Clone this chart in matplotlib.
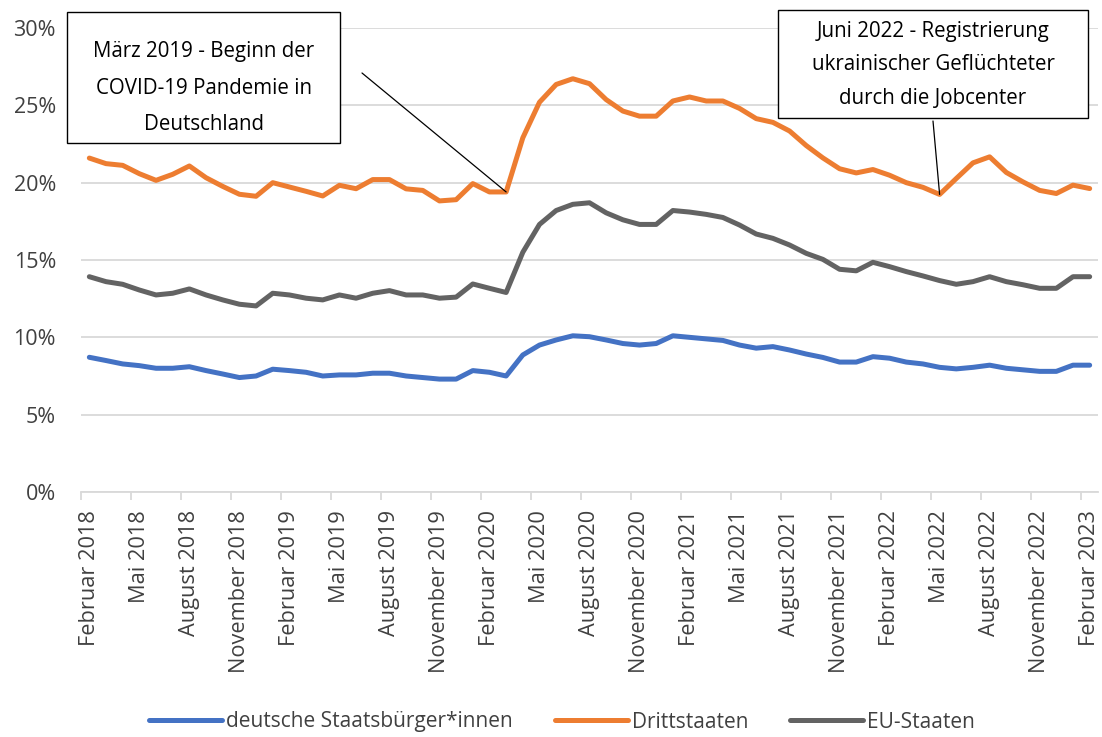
import numpy as np
import matplotlib
matplotlib.use('Agg')
import matplotlib.pyplot as plt
from matplotlib.patches import Rectangle

plt.rcParams['font.family'] = ['Open Sans', 'DejaVu Sans']

# Monatswerte Februar 2018 bis Februar 2023 (Anteil in %)
month_names = ['Januar', 'Februar', 'März', 'April', 'Mai', 'Juni', 'Juli',
               'August', 'September', 'Oktober', 'November', 'Dezember']
months = [f'{month_names[(1 + i) % 12]} {2018 + (1 + i) // 12}' for i in range(61)]

deutsche = [8.71, 8.5, 8.28, 8.17, 8.0, 8.0, 8.1, 7.85, 7.63, 7.4, 7.5, 7.94,
            7.85, 7.74, 7.5, 7.57, 7.57, 7.68, 7.68, 7.5, 7.4, 7.3, 7.3, 7.85,
            7.74, 7.5, 8.86, 9.5, 9.83, 10.1, 10.04, 9.83, 9.6, 9.5, 9.6, 10.1,
            10.0, 9.9, 9.8, 9.5, 9.3, 9.4, 9.18, 8.92, 8.7, 8.4, 8.4, 8.75,
            8.65, 8.4, 8.28, 8.06, 7.96, 8.06, 8.2, 8.0, 7.9, 7.8, 7.8, 8.2, 8.2]

dritt = [21.59, 21.23, 21.12, 20.58, 20.15, 20.54, 21.08, 20.32, 19.76, 19.25,
         19.12, 20.0, 19.72, 19.44, 19.14, 19.83, 19.61, 20.2, 20.2, 19.6,
         19.5, 18.82, 18.9, 19.94, 19.4, 19.4, 22.9, 25.2, 26.35, 26.72,
         26.4, 25.37, 24.63, 24.3, 24.3, 25.28, 25.54, 25.28, 25.28, 24.8,
         24.14, 23.9, 23.34, 22.4, 21.6, 20.9, 20.63, 20.85, 20.48, 20.0,
         19.7, 19.24, 20.27, 21.28, 21.67, 20.66, 20.05, 19.5, 19.3, 19.84, 19.62]

eu = [13.92, 13.6, 13.43, 13.06, 12.74, 12.85, 13.13, 12.74, 12.42, 12.14,
      12.03, 12.85, 12.74, 12.53, 12.42, 12.74, 12.53, 12.85, 13.02, 12.74,
      12.74, 12.53, 12.6, 13.45, 13.17, 12.9, 15.5, 17.3, 18.2, 18.6, 18.7,
      18.05, 17.6, 17.3, 17.3, 18.2, 18.1, 17.95, 17.75, 17.26, 16.68, 16.4,
      15.97, 15.43, 15.04, 14.4, 14.3, 14.85, 14.57, 14.25, 13.97, 13.67,
      13.43, 13.6, 13.92, 13.6, 13.4, 13.17, 13.17, 13.92, 13.92]

series_labels = ['deutsche Staatsbürger*innen', 'Drittstaaten', 'EU-Staaten']
colors = ['#4472C4', '#ED7D31', '#636363']
text_col = '#404040'

fig = plt.figure(figsize=(11.02, 7.37), dpi=100)
W, H = 1102, 737
ax = fig.add_axes([81 / W, 1 - 492 / H, (1098 - 81) / W, (492 - 28) / H])

x = np.arange(len(months))
lines = []
for vals, lab, col in zip([deutsche, dritt, eu], series_labels, colors):
    l, = ax.plot(x, np.array(vals) / 100, color=col, lw=3.6,
                 solid_capstyle='round', solid_joinstyle='round', label=lab, zorder=3)
    lines.append(l)

ax.set_xlim(-0.5, len(months) - 0.5)
ax.set_ylim(0, 0.30)
yt = np.arange(0, 0.31, 0.05)
ax.set_yticks(yt)
ax.set_yticklabels([f'{int(round(v * 100))}%' for v in yt])
ax.tick_params(axis='y', length=0, pad=18, labelsize=15.5, labelcolor=text_col)
ax.grid(axis='y', color='#D9D9D9', lw=1.3, zorder=0)

ax.set_xticks(x[::3])
ax.set_xticklabels(months[::3], rotation=90)
ax.set_xticks(np.arange(-0.5, len(months), 3), minor=True)
ax.tick_params(axis='x', which='major', length=0, pad=13, labelsize=15.7, labelcolor=text_col)
ax.tick_params(axis='x', which='minor', length=6, color='#D9D9D9', width=1.3)

for s in ['top', 'right', 'left']:
    ax.spines[s].set_visible(False)
ax.spines['bottom'].set_color('#D9D9D9')
ax.spines['bottom'].set_linewidth(1.3)

# Anmerkungen
def box(x0, y0, x1, y1, text_lines, line_h, first_y):
    fig.patches.append(Rectangle((x0 / W, 1 - y1 / H), (x1 - x0) / W, (y1 - y0) / H,
                                 transform=fig.transFigure, fill=True, facecolor='white',
                                 edgecolor='black', lw=1.0, zorder=5))
    for k, t in enumerate(text_lines):
        fig.text((x0 + x1) / 2 / W, 1 - (first_y + k * line_h) / H, t, ha='center',
                 va='center', fontsize=14.8, color='black', zorder=6)

box(67, 12, 340, 143, ['März 2019 - Beginn der', 'COVID-19 Pandemie in', 'Deutschland'], 36, 52)
box(778, 10, 1088, 118, ['Juni 2022 - Registrierung', 'ukrainischer Geflüchteter',
                         'durch die Jobcenter'], 34, 31)

ax.annotate('', xy=(25, dritt[25] / 100), xycoords='data',
            xytext=(362 / W, 1 - 73 / H), textcoords='figure fraction',
            arrowprops=dict(arrowstyle='-', color='black', lw=0.9, shrinkA=0, shrinkB=0))
ax.annotate('', xy=(51, dritt[51] / 100), xycoords='data',
            xytext=(933 / W, 1 - 121 / H), textcoords='figure fraction',
            arrowprops=dict(arrowstyle='-', color='black', lw=0.9, shrinkA=0, shrinkB=0))

fig.legend(handles=lines, labels=series_labels, loc='center', bbox_to_anchor=(0.51, 1 - 722 / H),
           ncol=3, frameon=False, fontsize=15, handlelength=3.5, columnspacing=2.0,
           handletextpad=0.2, labelcolor=text_col)

fig.savefig('out.png', dpi=100)
